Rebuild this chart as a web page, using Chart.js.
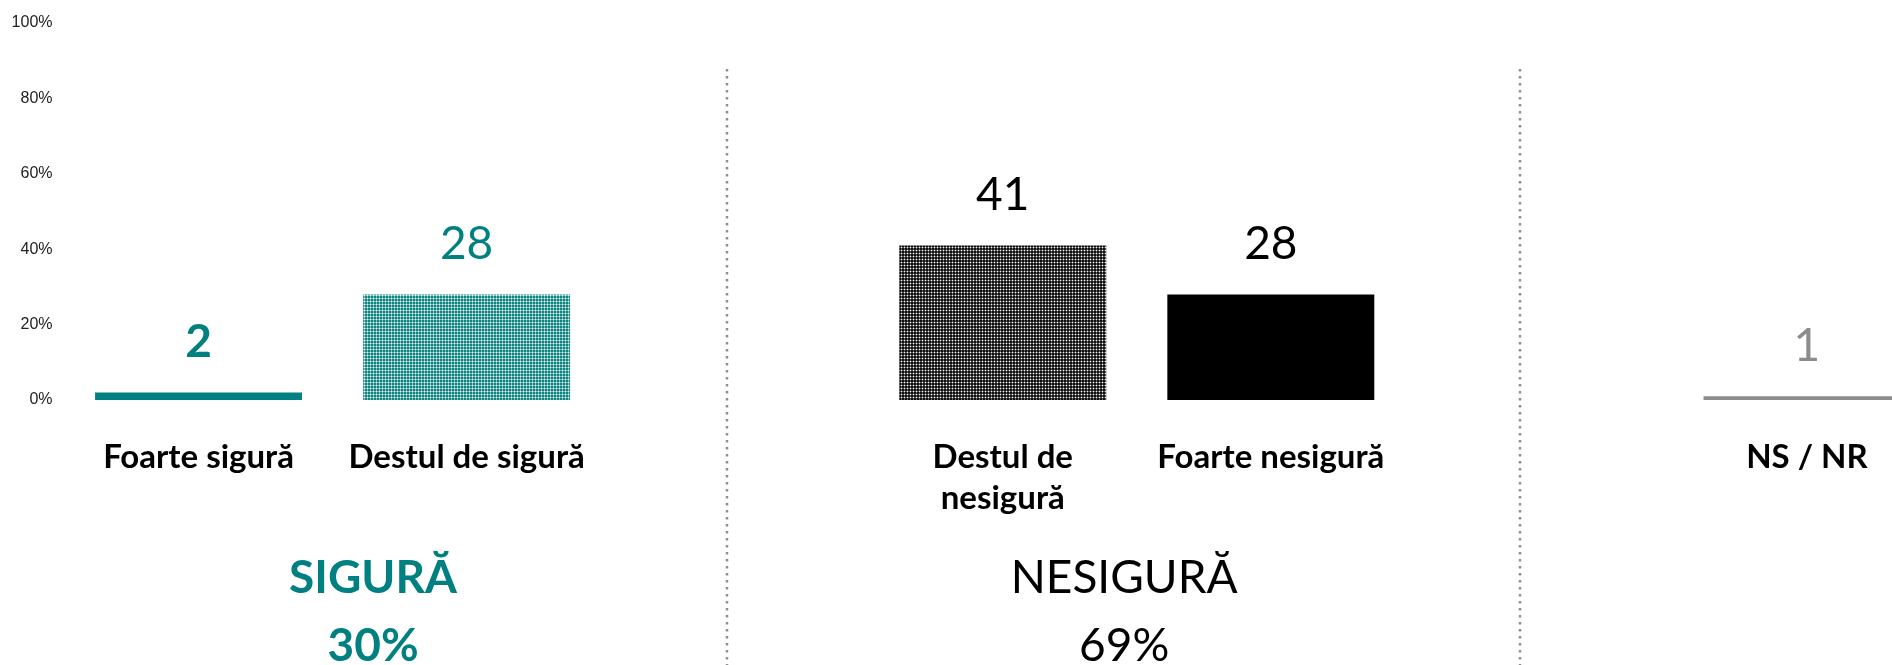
<!DOCTYPE html>
<html>
<head>
<meta charset="utf-8">
<script src="https://cdn.jsdelivr.net/npm/chart.js"></script>
<style>
    body { margin: 0; overflow: hidden; background: #fff; }
    #wrap { width: 1941px; height: 665px; position: relative; }
</style>
</head>
<body>
<div id="wrap"><canvas id="grafico"></canvas></div>
<script>
// Dados
const categorias = ["Foarte sigură", "Destul de sigură", "", ["Destul de", "nesigură"], "Foarte nesigură", "", "NS / NR"];
const valores = [2, 28, null, 41, 28, null, 1];
const rotulos = ["2", "28", "", "41", "28", "", "1"];
const grupos = ["SIGURĂ", "NESIGURĂ"];
const totaisGrupos = ["30%", "69%"];
const ticksY = [0, 20, 40, 60, 80, 100];

const TEAL = "#008080";
const CINZA = "#8c8c8c";

// padrão pontilhado (textura das barras)
function padrao(fundo, claro, ponto) {
    const c = document.createElement("canvas");
    c.width = 3; c.height = 3;
    const g = c.getContext("2d");
    g.fillStyle = fundo;
    g.fillRect(0, 0, 3, 3);
    g.fillStyle = claro;
    g.fillRect(1, 0, 1, 3);
    g.fillRect(0, 1, 3, 1);
    g.fillStyle = ponto;
    g.fillRect(1, 1, 1, 1);
    return g.createPattern(c, "repeat");
}

const padraoTeal = padrao("#0a8581", "#7cc1be", "#ffffff");
const padraoPreto = padrao("#111", "#5a5a5a", "#f4f4f4");

const coresBarras = [TEAL, padraoTeal, null, padraoPreto, "#000", null, CINZA];
const coresRotulos = [TEAL, TEAL, null, "#000", "#000", null, CINZA];
const pesoRotulos = ["bold", "normal", "normal", "normal", "normal", "normal", "normal"];

// rótulos de valor acima das barras
const rotulosValor = {
    id: "rotulosValor",
    afterDatasetsDraw(chart) {
        const ctx = chart.ctx;
        const meta = chart.getDatasetMeta(0);
        ctx.save();
        ctx.textAlign = "center";
        ctx.textBaseline = "middle";
        meta.data.forEach((bar, i) => {
            if (valores[i] === null) return;
            ctx.fillStyle = coresRotulos[i];
            ctx.font = pesoRotulos[i] + " 46px Lato";
            ctx.fillText(rotulos[i], bar.x, bar.y - 50);
        });
        ctx.restore();
    }
};

// linhas pontilhadas separando os grupos
const separadores = {
    id: "separadores",
    beforeDatasetsDraw(chart) {
        const ctx = chart.ctx;
        const x = chart.scales.x;
        const cat = x.getPixelForValue(1) - x.getPixelForValue(0);
        ctx.save();
        ctx.strokeStyle = "#8f8f8f";
        ctx.lineWidth = 2.5;
        ctx.setLineDash([2.5, 4.5]);
        [1.97, 4.93].forEach(p => {
            const px = Math.round(x.getPixelForValue(0) + p * cat);
            ctx.beginPath();
            ctx.moveTo(px, 69);
            ctx.lineTo(px, chart.height);
            ctx.stroke();
        });
        ctx.restore();
    }
};

// títulos dos grupos
const titulosGrupos = {
    id: "titulosGrupos",
    afterDraw(chart) {
        const ctx = chart.ctx;
        const x = chart.scales.x;
        const cat = x.getPixelForValue(1) - x.getPixelForValue(0);
        const base = chart.chartArea.bottom;
        const posicoes = [0.651, 3.453];
        const estilos = [{ cor: TEAL, peso: "bold" }, { cor: "#000", peso: "normal" }];
        ctx.save();
        ctx.textAlign = "center";
        ctx.textBaseline = "middle";
        grupos.forEach((t, i) => {
            const px = x.getPixelForValue(0) + posicoes[i] * cat;
            ctx.fillStyle = estilos[i].cor;
            ctx.font = estilos[i].peso + " 46px Lato";
            ctx.fillText(t, px, base + 178);
            ctx.fillText(totaisGrupos[i], px, base + 246);
        });
        ctx.restore();
    }
};

new Chart(document.getElementById("grafico"), {
    type: "bar",
    data: {
        labels: categorias,
        datasets: [{
            data: valores,
            backgroundColor: coresBarras,
            barPercentage: 0.772,
            categoryPercentage: 1
        }]
    },
    options: {
        responsive: true,
        maintainAspectRatio: false,
        animation: false,
        layout: { padding: { top: 23, left: 4, right: 0, bottom: 117 } },
        plugins: {
            legend: { display: false },
            tooltip: { enabled: false }
        },
        scales: {
            x: {
                grid: { display: false },
                border: { display: false },
                ticks: {
                    color: "#000",
                    font: { family: "Lato", size: 33, weight: "bold", lineHeight: 41 / 33 },
                    padding: 29,
                    maxRotation: 0,
                    autoSkip: false
                }
            },
            y: {
                min: 0,
                max: 100,
                afterBuildTicks: axis => { axis.ticks = ticksY.map(v => ({ value: v })); },
                afterFit: axis => { axis.width = 60.5; },
                grid: { display: false },
                border: { display: false },
                ticks: {
                    color: "#222",
                    font: { family: "Liberation Sans", size: 16 },
                    padding: 4,
                    callback: v => v + "%"
                }
            }
        }
    },
    plugins: [separadores, rotulosValor, titulosGrupos]
});
</script>
</body>
</html>
